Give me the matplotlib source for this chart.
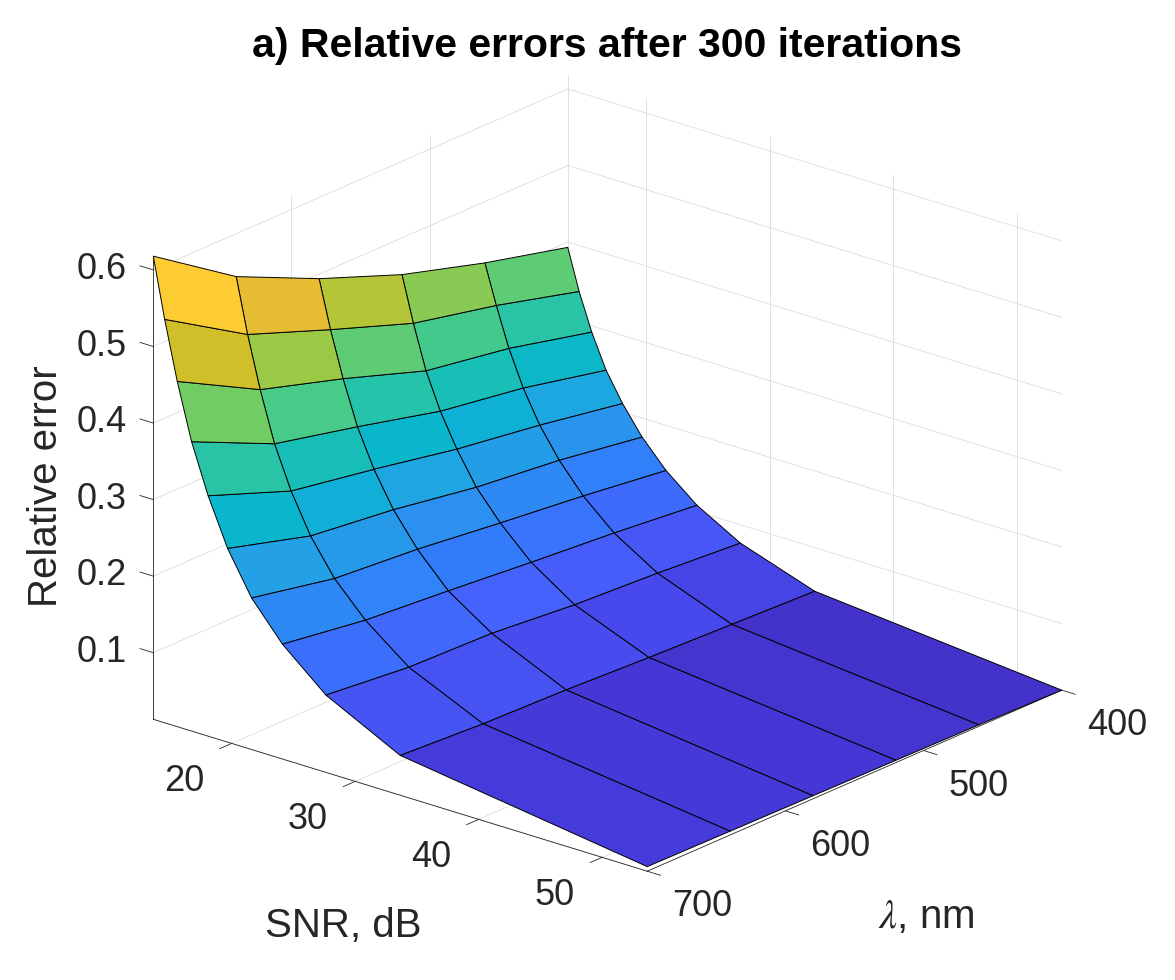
import numpy as np
import matplotlib
matplotlib.use("Agg")
import matplotlib.pyplot as plt
from matplotlib.colors import LinearSegmentedColormap, Normalize
from mpl_toolkits.mplot3d import proj3d

# data
snr = [13.65, 14.57, 15.59, 16.75, 18.09, 19.67, 21.61, 24.11, 27.63, 33.65, 53.65]
wavelength = [400, 460, 520, 580, 640, 700]
# rows: snr, columns: wavelength
rel_err = [
    [0.393, 0.420, 0.452, 0.494, 0.544, 0.618],
    [0.340, 0.369, 0.393, 0.432, 0.473, 0.540],
    [0.292, 0.318, 0.336, 0.373, 0.406, 0.464],
    [0.248, 0.272, 0.289, 0.316, 0.341, 0.391],
    [0.211, 0.230, 0.246, 0.267, 0.286, 0.327],
    [0.175, 0.192, 0.204, 0.222, 0.235, 0.266],
    [0.141, 0.155, 0.167, 0.180, 0.189, 0.211],
    [0.108, 0.119, 0.128, 0.138, 0.147, 0.163],
    [0.076, 0.084, 0.090, 0.100, 0.103, 0.114],
    [0.043, 0.047, 0.051, 0.056, 0.059, 0.065],
    [0.013, 0.015, 0.016, 0.017, 0.018, 0.019],
]
snr_ticks = [20, 30, 40, 50]
wl_ticks = [400, 500, 600, 700]
err_ticks = [0.1, 0.2, 0.3, 0.4, 0.5, 0.6]

title = "a) Relative errors after 300 iterations"

# parula (every 4th entry of the 64 colour table)
parula_pts = [
    (0.2422, 0.1504, 0.6603), (0.2706, 0.2147, 0.8364), (0.2813, 0.3006, 0.9414),
    (0.2699, 0.3892, 0.9906), (0.1963, 0.4847, 0.9892), (0.1687, 0.5703, 0.9359),
    (0.1248, 0.6459, 0.8883), (0.0297, 0.7082, 0.8163), (0.0964, 0.7500, 0.7120),
    (0.2161, 0.7843, 0.5923), (0.3909, 0.8029, 0.4354), (0.6174, 0.7876, 0.2612),
    (0.8203, 0.7498, 0.1535), (0.9728, 0.7298, 0.2394), (0.9892, 0.8136, 0.1885),
    (0.9597, 0.9135, 0.1423), (0.9769, 0.9839, 0.0805),
]
pos = [i * 4 / 63 for i in range(16)] + [1.0]
parula = LinearSegmentedColormap.from_list("parula", list(zip(pos, parula_pts)))

DARK = "#262626"
GRID = "#dcdcdc"
plt.rcParams["font.family"] = ["Liberation Sans", "DejaVu Sans"]
plt.rcParams["mathtext.fontset"] = "stix"

W, H = 1175, 980
fig = plt.figure(figsize=(W / 100, H / 100), dpi=100)
ax = fig.add_axes([0, 0, 1, 1], projection="3d")
ax.set_proj_type("ortho")
ax.view_init(elev=21.5, azim=-50)
ax.set_box_aspect((1, 1, 0.772))
ax.set_axis_off()
ax.computed_zorder = False

S, L = np.meshgrid(snr, wavelength, indexing="ij")
E = np.array(rel_err)
norm = Normalize(E.min(), E.max())

s_lo, s_hi = min(snr), max(snr)
w_lo, w_hi = min(wavelength), max(wavelength)
z_lo, z_hi = E.min(), E.max()
ax.set_xlim(s_lo, s_hi)
ax.set_ylim(w_hi, w_lo)   # reversed wavelength axis
ax.set_zlim(z_lo, z_hi)

# MATLAB-like grid on the floor and the two back walls
gkw = dict(color=GRID, lw=0.6, zorder=1)
for t in snr_ticks:
    ax.plot([t, t], [w_hi, w_lo], [z_lo, z_lo], **gkw)
    ax.plot([t, t], [w_lo, w_lo], [z_lo, z_hi], **gkw)
for t in wl_ticks:
    ax.plot([s_lo, s_hi], [t, t], [z_lo, z_lo], **gkw)
    ax.plot([s_lo, s_lo], [t, t], [z_lo, z_hi], **gkw)
for t in err_ticks:
    ax.plot([s_lo, s_lo], [w_hi, w_lo], [t, t], **gkw)
    ax.plot([s_lo, s_hi], [w_lo, w_lo], [t, t], **gkw)

# axis lines and outward ticks
akw = dict(color=DARK, lw=0.6, zorder=2)
ax.plot([s_lo, s_hi], [w_hi, w_hi], [z_lo, z_lo], **akw)
ax.plot([s_hi, s_hi], [w_hi, w_lo], [z_lo, z_lo], **akw)
ax.plot([s_lo, s_lo], [w_hi, w_hi], [z_lo, z_hi], **akw)
s_tick = 0.027 * (s_hi - s_lo)
w_tick = 0.029 * (w_hi - w_lo)
for t in snr_ticks:
    ax.plot([t, t], [w_hi, w_hi + w_tick], [z_lo, z_lo], **akw)
for t in wl_ticks:
    ax.plot([s_hi, s_hi + s_tick], [t, t], [z_lo, z_lo], **akw)
for t in err_ticks:
    ax.plot([s_lo - s_tick, s_lo], [w_hi, w_hi], [t, t], **akw)

ax.plot_surface(S, L, E, facecolors=parula(norm(E)), edgecolor="black",
                linewidth=0.7, shade=False, rstride=1, cstride=1, zorder=3)


def to_px(x, y, z):
    xs, ys, _ = proj3d.proj_transform(x, y, z, ax.get_proj())
    return ax.transData.transform((xs, ys))


# put the box where the reference has it
fig.canvas.draw()
pA = to_px(s_lo, w_hi, z_lo)
pC = to_px(s_hi, w_lo, z_lo)
tA = np.array([153.3, H - 719.3])
tC = np.array([1061.7, H - 691.0])
k = (tC[0] - tA[0]) / (pC[0] - pA[0])
c0 = np.array([W / 2, H / 2])
c1 = tA - k * (pA - c0)
nw, nh = W * k, H * k
ax.set_position([(c1[0] - nw / 2) / W, (c1[1] - nh / 2) / H, nw / W, nh / H])
fig.canvas.draw()


def tick_label(x, y, z, s, dx, dy, ha):
    px, py = to_px(x, y, z)
    fig.text((px + dx) / W, (py + dy) / H, s, ha=ha, va="baseline",
             fontsize=26, color=DARK)


# tick labels, placed like MATLAB does
for t in snr_ticks:
    tick_label(t, w_hi, z_lo, str(t), -47.6, -47.8, "center")
for t in wl_ticks:
    tick_label(s_hi, t, z_lo, str(t), 55.1, -45.0, "center")
for t in err_ticks:
    tick_label(s_lo, w_hi, t, "%.1f" % t, -26.6, -9.3, "right")

fig.text(343.3 / W, 1 - 936.7 / H, "SNR, dB", ha="center", va="baseline",
         fontsize=29, color=DARK)
fig.text(926 / W, 1 - 928.3 / H, r"$\lambda$, nm", ha="center", va="baseline",
         fontsize=29, color=DARK)
fig.text(46 / W, 1 - 486 / H, "Relative error", rotation=90, ha="center",
         va="center", fontsize=29, color=DARK)
fig.text(606.5 / W, 1 - 57 / H, title, ha="center", va="baseline",
         fontsize=29.5, fontweight="bold", color="black")

fig.savefig("out.png", dpi=100)
